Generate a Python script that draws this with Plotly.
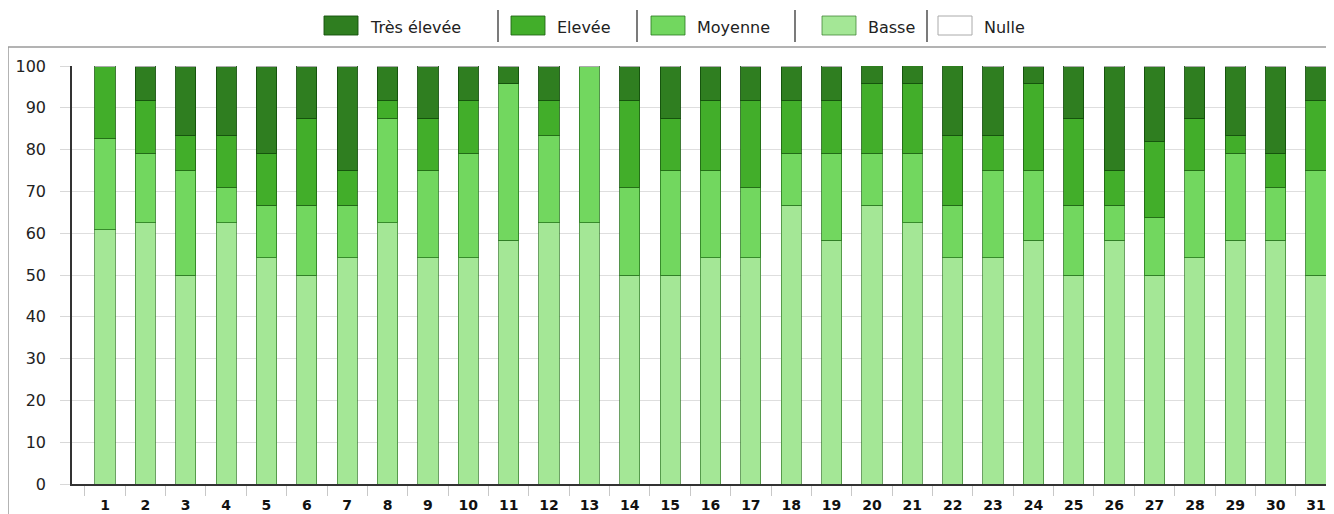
import plotly.graph_objects as go

# day of month
days = [str(d) for d in range(1, 32)]

# share of each level, in % (stacked to 100)
basse = [60.87, 62.5, 50, 62.5, 54.17, 50, 54.17, 62.5, 54.17, 54.17,
         58.33, 62.5, 62.5, 50, 50, 54.17, 54.17, 66.67, 58.33, 66.67,
         62.5, 54.17, 54.17, 58.33, 50, 58.33, 50, 54.17, 58.33, 58.33, 50]
moyenne = [21.74, 16.67, 25, 8.33, 12.5, 16.67, 12.5, 25, 20.83, 25,
           37.5, 20.83, 37.5, 20.83, 25, 20.83, 16.67, 12.5, 20.83, 12.5,
           16.67, 12.5, 20.83, 16.67, 16.67, 8.33, 13.64, 20.83, 20.83, 12.5, 25]
elevee = [17.39, 12.5, 8.33, 12.5, 12.5, 20.83, 8.33, 4.17, 12.5, 12.5,
          0, 8.33, 0, 20.83, 12.5, 16.67, 20.83, 12.5, 12.5, 16.67,
          16.67, 16.67, 8.33, 20.83, 20.83, 8.33, 18.18, 12.5, 4.17, 8.33, 16.67]
tres_elevee = [0, 8.33, 16.67, 16.67, 20.83, 12.5, 25, 8.33, 12.5, 8.33,
               4.17, 8.33, 0, 8.33, 12.5, 8.33, 8.33, 8.33, 8.33, 4.17,
               4.17, 16.67, 16.67, 4.17, 12.5, 25, 18.18, 12.5, 16.67, 20.83, 8.33]
nulle = [0] * 31

# name, values, fill, edge
series = [
    ("Basse", basse, "#a4e796", "rgba(60,130,50,0.75)"),
    ("Moyenne", moyenne, "#72d75f", "rgba(40,120,30,0.8)"),
    ("Elevée", elevee, "#42ae2a", "rgba(30,100,20,0.85)"),
    ("Très élevée", tres_elevee, "#2f7e20", "rgba(20,80,12,0.9)"),
    ("Nulle", nulle, "#ffffff", "#aaaaaa"),
]

fig = go.Figure()
for name, vals, color, edge in series:
    fig.add_trace(go.Bar(
        x=days, y=vals, name=name, showlegend=False,
        marker=dict(color=color, line=dict(color=edge, width=1)),
        width=0.5,
    ))

font = "DejaVu Sans, Verdana, sans-serif"
W, H = 1318, 506          # page adds an 8px body margin
L, T, B = 64, 58, 30
PW, PH = W - L, H - T - B


def px_x(x):   # page pixel -> paper fraction
    return (x - 8 - L) / PW


def px_y(y):
    return (H - B - (y - 8)) / PH


fig.update_layout(
    width=W, height=H,
    barmode="stack",
    plot_bgcolor="white", paper_bgcolor="white",
    margin=dict(l=L, r=0, t=T, b=B),
    font=dict(family=font, size=13, color="#222"),
    showlegend=False,
    xaxis=dict(
        type="category", range=[-0.8175, 30.248],
        showline=True, linecolor="#333", linewidth=1.5, layer="below traces",
        ticks="outside", tickson="boundaries", ticklen=10, tickcolor="#c8c8c8",
        ticklabelstandoff=7,
        tickfont=dict(size=14, weight="bold", color="#111"),
        showgrid=False,
    ),
    yaxis=dict(
        range=[0, 100], dtick=10,
        showline=True, linecolor="#333", linewidth=1.5,
        ticks="outside", ticklen=10, tickcolor="#d8d8d8",
        ticklabelstandoff=11,
        gridcolor="#dedede", gridwidth=1.3, zeroline=False,
        tickfont=dict(size=16, color="#222"),
    ),
    bargap=0.5,
)

# outer frame of the chart box
fig.add_shape(type="rect", xref="paper", yref="paper",
              x0=px_x(8), x1=1.05, y0=-0.3, y1=px_y(47),
              line=dict(color="#9a9a9a", width=1.5), layer="below")

# legend row: swatch, label, separators
legend_order = ["Très élevée", "Elevée", "Moyenne", "Basse", "Nulle"]
swatch_left = [324, 511, 651, 822, 938]
separators = [498, 637, 795, 927]
styles = {name: (color, edge) for name, _, color, edge in series}
for name, x0 in zip(legend_order, swatch_left):
    color, edge = styles[name]
    fig.add_shape(type="rect", xref="paper", yref="paper",
                  x0=px_x(x0), x1=px_x(x0 + 34), y0=px_y(35), y1=px_y(16),
                  fillcolor=color, line=dict(color=edge, width=1))
    fig.add_annotation(text=name, xref="paper", yref="paper",
                       x=px_x(x0 + 44), y=px_y(27), xanchor="left", yanchor="middle",
                       showarrow=False, font=dict(size=16, color="#222"))
for sx in separators:
    fig.add_shape(type="line", xref="paper", yref="paper",
                  x0=px_x(sx), x1=px_x(sx), y0=px_y(42), y1=px_y(10),
                  line=dict(color="#222", width=1.2))

fig.write_html("out.html")
